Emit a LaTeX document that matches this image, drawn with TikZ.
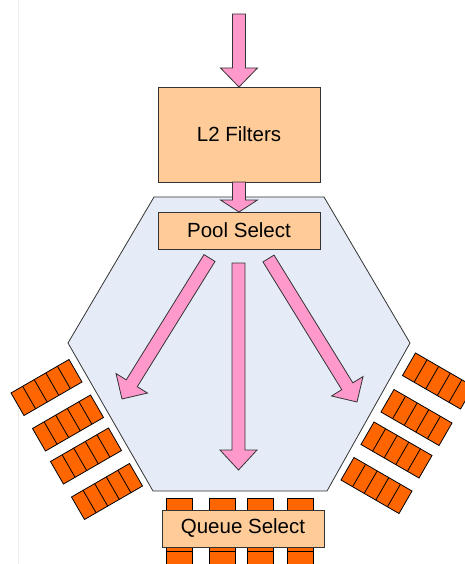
\documentclass[tikz,border=0pt]{standalone}
\usepackage{fontspec}
\setmainfont{Liberation Sans}
\usetikzlibrary{calc}
\definecolor{pinkA}{HTML}{FF99CC}
\definecolor{peach}{HTML}{FFCC99}
\definecolor{orangeQ}{HTML}{FF6600}
\definecolor{hexfill}{HTML}{E6ECF7}
\definecolor{edgegray}{HTML}{333333}
\definecolor{faint}{HTML}{EEF0EA}
\tikzset{
  boxnode/.style={draw=edgegray, line width=0.8pt, fill=peach, inner sep=0pt, outer sep=0pt,
    minimum width=162pt, font=\fontsize{20.5}{24}\selectfont},
  blk/.style={draw=edgegray, line width=0.8pt, fill=pinkA, line join=miter},
  qbox/.style={draw=black, line width=0.8pt, fill=orangeQ},
  qline/.style={draw=black, line width=0.8pt},
  hexstyle/.style={draw=edgegray, line width=0.8pt, fill=hexfill, line join=round},
}
\newcommand{\blkarrow}[3]{%
  \draw[blk] let \p1=(#1), \p2=(#2),
    \n1={atan2(\y2-\y1,\x2-\x1)},
    \n2={veclen(\x2-\x1,\y2-\y1)-#3} in
    ($(\p1)+(\n1+90:6.5pt)$)
    -- ($(\p1)+(\n1:\n2)+(\n1+90:6.5pt)$)
    -- ($(\p1)+(\n1:\n2)+(\n1+90:18.5pt)$)
    -- (\p2)
    -- ($(\p1)+(\n1:\n2)+(\n1-90:18.5pt)$)
    -- ($(\p1)+(\n1:\n2)+(\n1-90:6.5pt)$)
    -- ($(\p1)+(\n1-90:6.5pt)$) -- cycle;}
\newcommand{\qrow}[3]{%
  \begin{scope}[shift={(#1,#2)}, rotate=#3]
    \draw[qbox] (-33.5,-13) rectangle (33.5,13);
    \foreach \k in {1,...,4} \draw[qline] ({-33.5+13.4*\k},-13) -- ({-33.5+13.4*\k},13);
  \end{scope}}
\begin{document}
\begin{tikzpicture}[x=1pt,y=-1pt]
  \useasboundingbox (0,0) rectangle (465,564);
  \clip (0,0) rectangle (465,564);
  \fill[white] (0,0) rectangle (465,564);
  \draw[faint, line width=0.8pt] (18.5,0) -- (18.5,564);
  % hexagon
  \draw[hexstyle] (154,197) -- (324,197) -- (410,343) -- (327,491) -- (153,491) -- (68,343) -- cycle;
  % left queues
  \qrow{46.5}{387.5}{30}
  \qrow{68}{423}{30}
  \qrow{86}{456}{30}
  \qrow{107}{491.5}{30}
  % right queues
  \qrow{438}{381}{-30}
  \qrow{416.5}{417.5}{-30}
  \qrow{396.5}{450}{-30}
  \qrow{376.5}{485.5}{-30}
  % bottom queues
  \qrow{179}{531.5}{90}
  \qrow{222}{531.5}{90}
  \qrow{260.5}{531.5}{90}
  \qrow{300.5}{531.5}{90}
  % boxes
  \node[boxnode, minimum height=95pt] (l2) at (239,134.5) {L2 Filters};
  \node[boxnode, minimum height=37pt] (pool) at (239,230.5) {Pool Select};
  \node[boxnode, minimum height=37pt] (qsel) at (243,528.5) {Queue Select};
  % arrow end points
  \coordinate (inTop) at (239,14);
  \coordinate (mS) at (238.5,263);
  \coordinate (mE) at (238.5,470);
  \coordinate (lS) at (209.5,258);
  \coordinate (lE) at (122,399);
  \coordinate (rS) at (268.5,258.5);
  \coordinate (rE) at (357,402);
  % arrows
  \blkarrow{inTop}{l2.north}{19}
  \blkarrow{l2.south}{pool.north}{12}
  \blkarrow{mS}{mE}{20}
  \blkarrow{lS}{lE}{18.5}
  \blkarrow{rS}{rE}{18.5}
\end{tikzpicture}
\end{document}
